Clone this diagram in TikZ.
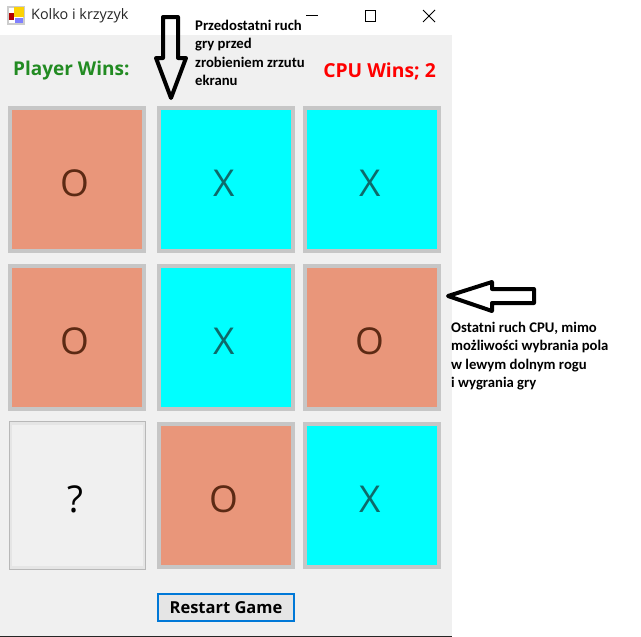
\documentclass[tikz,border=0pt]{standalone}
\usepackage{fontspec}
\setmainfont{Open Sans}
\newfontfamily\notefont{Carlito}
\usepackage{xcolor}
\definecolor{formbg}{HTML}{F0F0F0}
\definecolor{cellrim}{HTML}{C6C6C6}
\definecolor{salmon}{HTML}{E9967A}
\definecolor{aqua}{HTML}{00FFFF}
\definecolor{ink}{HTML}{5C2A14}
\definecolor{tealink}{HTML}{0E6A6A}
\definecolor{winner}{HTML}{228B22}
\definecolor{btnblue}{HTML}{0078D7}
\newcommand{\markshift}[1]{\hspace*{-4pt}\raisebox{0pt}[\dimexpr\height+8pt\relax]{#1}}
\tikzset{
  cellbox/.style={draw=cellrim,line width=4pt,minimum width=134pt,minimum height=143pt,inner sep=0pt,font=\fontsize{37}{37}\selectfont},
  cello/.style={cellbox,fill=salmon,text=ink},
  cellx/.style={cellbox,fill=aqua,text=tealink},
  notetext/.style={anchor=north west,align=left,inner sep=0pt,font=\notefont\bfseries\fontsize{14.7}{18.3}\selectfont},
  blockarrow/.style={draw=black,line width=4pt,line join=round}
}
\begin{document}
\begin{tikzpicture}[x=1pt,y=-1pt]
  \useasboundingbox (0,0) rectangle (641,637);
  \fill[white] (0,0) rectangle (641,637);

  % Window
  \fill[formbg] (0,35) rectangle (452,636);
  \fill[black!85] (0,636) rectangle (452,637);

  % Title bar
  \fill[black!20] (7,6) rectangle (25,25);
  \fill[white] (9,8) rectangle (23,23);
  \fill[red!70!black] (9,13) rectangle (14,20);
  \fill[yellow!70!orange] (14,7) rectangle (24,17);
  \fill[blue!50] (15,18) rectangle (23,23);
  \node[anchor=west,inner sep=0pt,font=\fontsize{14.4}{16}\selectfont,text=black!85] (title) at (31,15.5) {Kolko i krzyzyk};
  \draw[line width=0.9pt] (306,15) -- (318,15);
  \draw[line width=0.9pt] (365,10.5) rectangle (375,21);
  \draw[line width=0.8pt] (423,10) -- (435,22) (435,10) -- (423,22);

  % Scores
  \node[anchor=west,inner sep=0pt,font=\bfseries\fontsize{19}{20}\selectfont,text=winner] (playerwins) at (13,71) {Player Wins:};
  \node[anchor=east,inner sep=0pt,font=\bfseries\fontsize{19.3}{20}\selectfont,text=red] (cpuwins) at (436,71) {CPU Wins; 2};

  % Board
  \foreach \name/\kind/\x/\y/\mark in {a/cello/77/179.5/O,b/cellx/226/179.5/X,c/cellx/372/179.5/X,
    d/cello/77/337.5/O,e/cellx/226/337.5/X,f/cello/372/337.5/O,
    h/cello/226/495/O,i/cellx/372/495/X} {
    \node[\kind] (cell\name) at (\x,\y) {\markshift{\mark}};
  }
  \node[draw=black!10,fill=formbg,line width=3pt,minimum width=134pt,minimum height=144pt,inner sep=0pt,font=\fontsize{37}{37}\selectfont] (cellg) at (77,495) {\markshift{?}};
  \draw[black!28,line width=1pt] (9,421.5) rectangle (145.5,569);

  % Restart
  \node[draw=btnblue,fill=black!10,line width=2.5pt,minimum width=136pt,minimum height=27pt,inner sep=0pt,font=\bfseries\fontsize{16.5}{18}\selectfont] (restart) at (226,607.5) {Restart Game};

  % Down arrow
  \draw[blockarrow] (163,17) -- (178,17) -- (178,58) -- (186,58) -- (171,98) -- (156,58) -- (163,58) -- cycle;
  \node[notetext] (notetop) at (195,20) {Przedostatni ruch\\gry przed\\zrobieniem zrzutu\\ekranu};

  % Left arrow
  \draw[blockarrow] (534,289) -- (534,303) -- (492,303) -- (492,311) -- (448,296) -- (492,282) -- (492,289) -- cycle;
  \node[notetext] (noteright) at (451,322) {Ostatni ruch CPU, mimo\\możliwości wybrania pola\\w lewym dolnym rogu\\i wygrania gry};
\end{tikzpicture}
\end{document}
